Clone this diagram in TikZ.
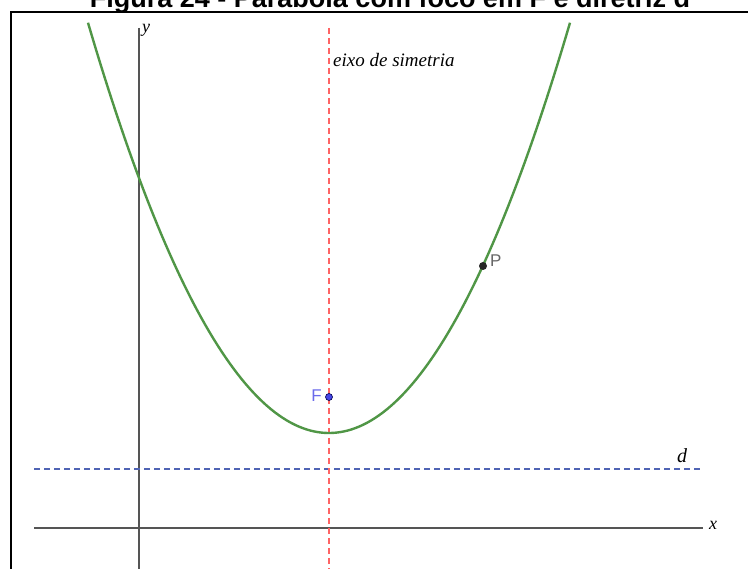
\documentclass[tikz,border=0pt]{standalone}
\usepackage{fontspec}
\setmainfont{Liberation Serif}
\newfontfamily\arialfont{Liberation Sans}
\definecolor{curvegreen}{RGB}{80,150,70}
\definecolor{axisgray}{RGB}{85,85,85}
\definecolor{symred}{RGB}{255,100,100}
\definecolor{dirblue}{RGB}{80,100,180}
\definecolor{focusblue}{RGB}{70,70,230}
\begin{document}
\begin{tikzpicture}[x=1pt,y=-1pt,
  axisline/.style={axisgray, line width=2.5pt},
  curve/.style={curvegreen, line width=2.4pt},
  symline/.style={symred, line width=1.4pt, dash pattern=on 6pt off 4pt},
  dirline/.style={dirblue, line width=1.3pt, dash pattern=on 6pt off 4pt},
  axlabel/.style={font=\fontsize{18}{18}\selectfont\itshape, inner sep=0pt},
  ptlabel/.style={font=\arialfont\fontsize{17}{17}\selectfont, inner sep=0pt}]
\useasboundingbox (0,0) rectangle (748,569);
% title (cut off at top)
\node[font=\arialfont\bfseries\fontsize{27}{27}\selectfont, anchor=base, inner sep=0pt] (title) at (390,8) {Figura 24 - Parábola com foco em F e diretriz d};
% frame
\draw[black, line width=2.4pt] (760,12) -- (11,12) -- (11,580);
% coordinates
\coordinate (xa) at (34,528);
\coordinate (xb) at (703,528);
\coordinate (ya) at (139,28);
\coordinate (yb) at (139,580);
\coordinate (da) at (34,469);
\coordinate (db) at (703,469);
\coordinate (sa) at (329,28);
\coordinate (sb) at (329,580);
% axes
\draw[axisline] (xa) -- (xb);
\draw[axisline] (ya) -- (yb);
\node[axlabel, anchor=base west] (xl) at (709,530) {x};
\node[axlabel, anchor=base west] (yl) at (142,33) {y};
% directrix
\draw[dirline] (da) -- (db);
\node[axlabel, font=\fontsize{20}{20}\selectfont\itshape, anchor=base] (dl) at (682,463) {d};
% symmetry axis
\draw[symline] (sa) -- (sb);
\node[axlabel, font=\fontsize{19}{19}\selectfont\itshape, anchor=base west] (el) at (333,67) {eixo de simetria};
% parabola
\draw[curve] plot[domain=-241:241, samples=120] ({329+\x},{433-(0.08405*\x)^2});
% focus and point P
\node[circle, fill=focusblue, draw=black!70!blue, line width=0.6pt, inner sep=0pt, minimum size=7pt] (F) at (329,397) {};
\node[ptlabel, text=focusblue!80, anchor=base east] (Fl) at (322,402) {F};
\node[circle, fill=black!85, inner sep=0pt, minimum size=8pt] (P) at (483,266) {};
\node[ptlabel, text=black!60, anchor=base west] (Pl) at (490,267) {P};
\end{tikzpicture}
\end{document}
